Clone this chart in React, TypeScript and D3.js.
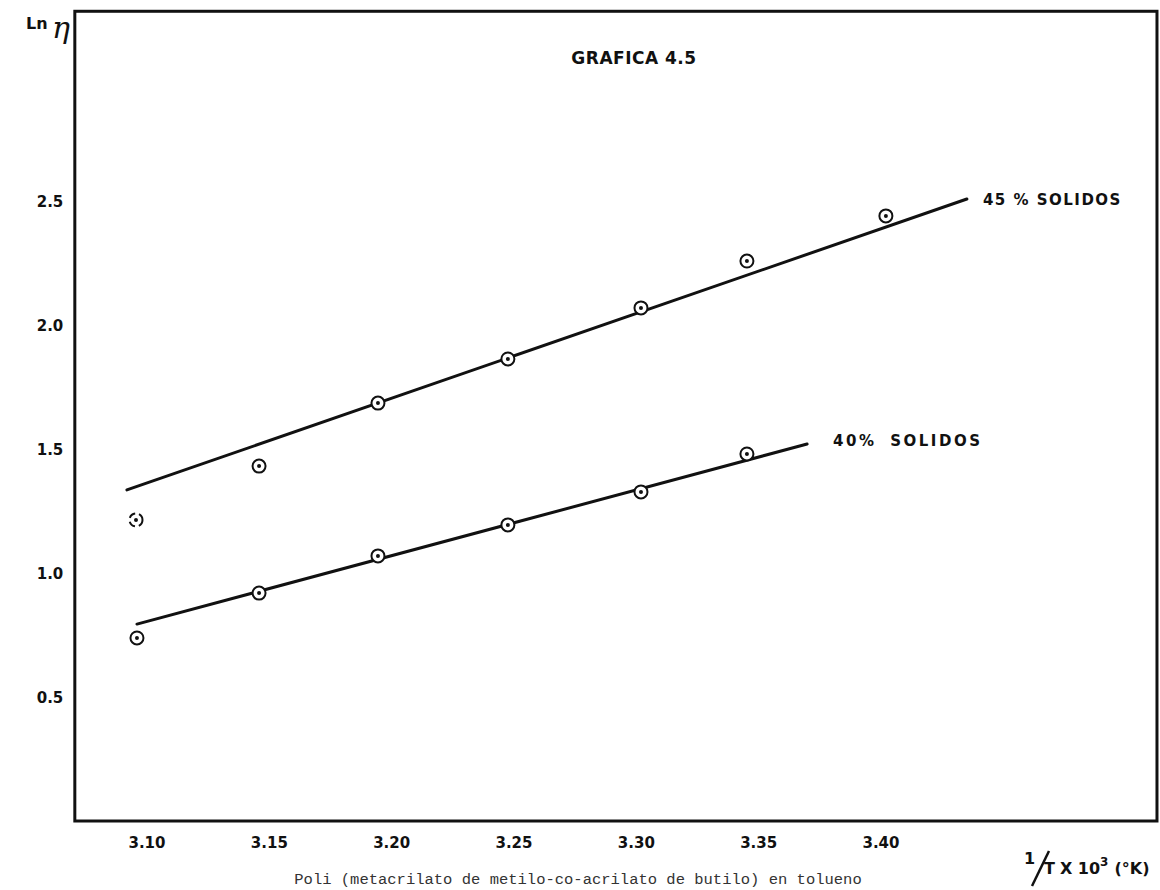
import React, { useEffect, useRef } from 'react';
import * as d3 from 'd3';

// Grafica 4.5 - Ln(viscosity) vs 1/T for two solids contents
const xTicks = [3.10, 3.15, 3.20, 3.25, 3.30, 3.35, 3.40];
const xTickLabels = ['3.10', '3.15', '3.20', '3.25', '3.30', '3.35', '3.40'];
const yTicks = [0.5, 1.0, 1.5, 2.0, 2.5];
const yTickLabels = ['0.5', '1.0', '1.5', '2.0', '2.5'];

const invT45 = [3.0955, 3.1458, 3.1944, 3.2475, 3.3019, 3.3452, 3.402];
const lnEta45 = [1.214, 1.431, 1.685, 1.863, 2.069, 2.258, 2.44];
const invT40 = [3.0959, 3.1458, 3.1944, 3.2475, 3.3019, 3.3452];
const lnEta40 = [0.738, 0.919, 1.069, 1.194, 1.327, 1.48];

// hand-drawn straight lines through each set (ends in data units)
const fit45X = [3.0918, 3.4351];
const fit45Y = [1.335, 2.508];
const fit40X = [3.0959, 3.3698];
const fit40Y = [0.794, 1.520];

const frameX = [3.0705, 3.5128];
const frameY = [0, 3.265];

const W = 1160;
const H = 890;

const App = () => {
  const svgRef = useRef<SVGSVGElement>(null);

  useEffect(() => {
    document.body.style.margin = '0';
    const svg = d3.select(svgRef.current);
    svg.selectAll('*').remove();

    const x = d3.scaleLinear().domain([3.10, 3.40]).range([147, 881]);
    const y = d3.scaleLinear().domain([0, 2.5]).range([821, 201]);

    const ink = '#111';
    const lettering = '"DejaVu Sans", "Liberation Sans", sans-serif';

    svg.append('rect').attr('width', W).attr('height', H).attr('fill', '#fff');

    // frame
    svg.append('rect')
      .attr('x', x(frameX[0]))
      .attr('y', y(frameY[1]))
      .attr('width', x(frameX[1]) - x(frameX[0]))
      .attr('height', y(frameY[0]) - y(frameY[1]))
      .attr('fill', 'none')
      .attr('stroke', ink)
      .attr('stroke-width', 3);

    // tick labels
    svg.selectAll('.xt')
      .data(xTicks)
      .enter()
      .append('text')
      .attr('x', d => x(d))
      .attr('y', y(0) + 27)
      .attr('text-anchor', 'middle')
      .style('font-family', lettering)
      .style('font-weight', 'bold')
      .style('font-size', '15px')
      .style('fill', ink)
      .text((d, i) => xTickLabels[i]);

    svg.selectAll('.yt')
      .data(yTicks)
      .enter()
      .append('text')
      .attr('x', 50)
      .attr('y', d => y(d) + 6)
      .attr('text-anchor', 'middle')
      .style('font-family', lettering)
      .style('font-weight', 'bold')
      .style('font-size', '15px')
      .style('fill', ink)
      .text((d, i) => yTickLabels[i]);

    // fitted lines
    const line = d3.line<[number, number]>()
      .x(d => x(d[0]))
      .y(d => y(d[1]));

    [[fit45X, fit45Y], [fit40X, fit40Y]].forEach(([fx, fy]) => {
      svg.append('path')
        .attr('d', line(fx.map((v, i) => [v, fy[i]] as [number, number])))
        .attr('fill', 'none')
        .attr('stroke', ink)
        .attr('stroke-width', 3)
        .attr('stroke-linecap', 'round');
    });

    // data points: open circles with a centre dot
    const drawPoints = (xs: number[], ys: number[]) => {
      const g = svg.append('g');
      xs.forEach((v, i) => {
        g.append('circle')
          .attr('cx', x(v))
          .attr('cy', y(ys[i]))
          .attr('r', 6.5)
          .attr('fill', '#fff')
          .attr('stroke', ink)
          .attr('stroke-width', 2)
          .attr('stroke-dasharray', i === 0 && xs === invT45 ? '7,4' : null);
        g.append('circle')
          .attr('cx', x(v))
          .attr('cy', y(ys[i]))
          .attr('r', 2)
          .attr('fill', ink);
      });
    };
    drawPoints(invT45, lnEta45);
    drawPoints(invT40, lnEta40);

    // series labels
    svg.append('text')
      .attr('x', x(fit45X[1]) + 16)
      .attr('y', y(fit45Y[1]) + 6)
      .style('font-family', lettering)
      .style('font-weight', 'bold')
      .style('font-size', '15px')
      .style('letter-spacing', '1.5px')
      .style('fill', ink)
      .text('45 % SOLIDOS');

    svg.append('text')
      .attr('x', x(fit40X[1]) + 26)
      .attr('y', y(fit40Y[1]) + 2)
      .style('font-family', lettering)
      .style('font-weight', 'bold')
      .style('font-size', '15px')
      .style('letter-spacing', '2.5px')
      .style('word-spacing', '6px')
      .style('fill', ink)
      .text('40% SOLIDOS');

    // title
    svg.append('text')
      .attr('x', 634)
      .attr('y', 64)
      .attr('text-anchor', 'middle')
      .style('font-family', lettering)
      .style('font-weight', 'bold')
      .style('font-size', '17px')
      .style('letter-spacing', '0.5px')
      .style('fill', ink)
      .text('GRAFICA 4.5');

    // y axis title
    svg.append('text')
      .attr('x', 26)
      .attr('y', 29)
      .style('font-family', lettering)
      .style('font-weight', 'bold')
      .style('font-size', '16px')
      .style('fill', ink)
      .text('Ln');
    svg.append('text')
      .attr('x', 52)
      .attr('y', 38)
      .style('font-family', '"DejaVu Serif", serif')
      .style('font-style', 'italic')
      .style('font-size', '30px')
      .style('fill', ink)
      .text('η');

    // x axis title: 1/T X 10^3 (°K), slash drawn as a stroke
    svg.append('text')
      .attr('x', 1024)
      .attr('y', 864)
      .style('font-family', lettering)
      .style('font-weight', 'bold')
      .style('font-size', '16px')
      .style('fill', ink)
      .text('1');
    svg.append('line')
      .attr('x1', 1032)
      .attr('y1', 886)
      .attr('x2', 1049)
      .attr('y2', 851)
      .attr('stroke', ink)
      .attr('stroke-width', 2.5);
    const xt = svg.append('text')
      .attr('x', 1044)
      .attr('y', 874)
      .style('font-family', lettering)
      .style('font-weight', 'bold')
      .style('fill', ink);
    xt.append('tspan').style('font-size', '16px').text('T');
    xt.append('tspan').attr('dx', 5).style('font-size', '16px').text('X 10');
    xt.append('tspan').attr('dy', -8).style('font-size', '12px').text('3');
    xt.append('tspan').attr('dy', 8).attr('dx', 6).style('font-size', '16px').text('(°K)');

    // caption
    svg.append('text')
      .attr('x', 578)
      .attr('y', 884)
      .attr('text-anchor', 'middle')
      .style('font-family', '"Liberation Mono", "DejaVu Sans Mono", monospace')
      .style('font-size', '15.5px')
      .style('fill', '#333')
      .text('Poli (metacrilato de metilo-co-acrilato de butilo) en tolueno');
  }, []);

  return (
    <div style={{ position: 'absolute', left: 0, top: 0 }}>
      <svg ref={svgRef} width={W} height={H} style={{ display: 'block' }} />
    </div>
  );
};

export default App;
